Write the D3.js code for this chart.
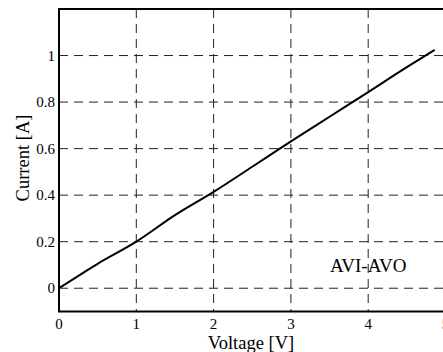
<!DOCTYPE html>
<html>
<head>
<meta charset="utf-8">
<script src="https://cdn.jsdelivr.net/npm/d3@7"></script>
<style>
    html, body { margin: 0; padding: 0; background: #fff; overflow: hidden; }
    svg { display: block; font-family: "Liberation Serif", "Times New Roman", serif; }
</style>
</head>
<body>
<svg id="chart" width="443" height="352"></svg>
<script>
var voltage = [0, 0.5, 1, 1.5, 2, 2.5, 3, 3.5, 4, 4.5, 4.86];
var current = [0, 0.105, 0.2, 0.314, 0.414, 0.522, 0.631, 0.737, 0.843, 0.95, 1.024];
var xTicks  = [0, 1, 2, 3, 4, 5];
var yTicks  = [0, 0.2, 0.4, 0.6, 0.8, 1];
var yTickLabels = ['0', '0.2', '0.4', '0.6', '0.8', '1'];
var seriesName = 'AVI-AVO';

document.addEventListener('DOMContentLoaded', function () {
    var svg = d3.select('#chart');

    var x = d3.scaleLinear().domain([0, 5]).range([59, 445.5]);
    var y = d3.scaleLinear().domain([-0.1, 1.2]).range([311.5, 9]);

    var X0 = x.range()[0], X1 = x.range()[1];
    var Y0 = y.range()[0], Y1 = y.range()[1];

    // grid
    svg.append('g').selectAll('line.v')
        .data(xTicks.filter(function (d) { return d > 0; }))
        .enter().append('line')
        .attr('x1', function (d) { return x(d); })
        .attr('x2', function (d) { return x(d); })
        .attr('y1', Y1).attr('y2', Y0)
        .attr('stroke', '#222').attr('stroke-width', 1)
        .attr('stroke-dasharray', '9,6');

    svg.append('g').selectAll('line.h')
        .data(yTicks)
        .enter().append('line')
        .attr('x1', X0).attr('x2', X1)
        .attr('y1', function (d) { return y(d); })
        .attr('y2', function (d) { return y(d); })
        .attr('stroke', '#222').attr('stroke-width', 1)
        .attr('stroke-dasharray', '9,6');

    // frame
    svg.append('rect')
        .attr('x', X0).attr('y', Y1)
        .attr('width', X1 - X0).attr('height', Y0 - Y1)
        .attr('fill', 'none').attr('stroke', '#000').attr('stroke-width', 2);

    // data line
    var line = d3.line()
        .x(function (d, i) { return x(voltage[i]); })
        .y(function (d) { return y(d); })
        .curve(d3.curveMonotoneX);

    svg.append('path')
        .datum(current)
        .attr('d', line)
        .attr('fill', 'none')
        .attr('stroke', '#000')
        .attr('stroke-width', 2);

    // tick labels
    svg.append('g').selectAll('text')
        .data(xTicks)
        .enter().append('text')
        .attr('x', function (d) { return x(d); })
        .attr('y', 329)
        .attr('text-anchor', 'middle')
        .attr('font-size', 15)
        .text(function (d) { return d; });

    svg.append('g').selectAll('text')
        .data(yTicks)
        .enter().append('text')
        .attr('x', 55)
        .attr('y', function (d) { return y(d) + 5; })
        .attr('text-anchor', 'end')
        .attr('font-size', 15)
        .text(function (d, i) { return yTickLabels[i]; });

    // axis titles
    svg.append('text')
        .attr('x', 251).attr('y', 349)
        .attr('text-anchor', 'middle')
        .attr('font-size', 18.5)
        .text('Voltage [V]');

    svg.append('text')
        .attr('transform', 'translate(29,158) rotate(-90)')
        .attr('text-anchor', 'middle')
        .attr('font-size', 18.5)
        .text('Current [A]');

    // series label
    svg.append('text')
        .attr('x', 330).attr('y', 271.5)
        .attr('font-size', 19)
        .text(seriesName);
});
</script>
</body>
</html>
